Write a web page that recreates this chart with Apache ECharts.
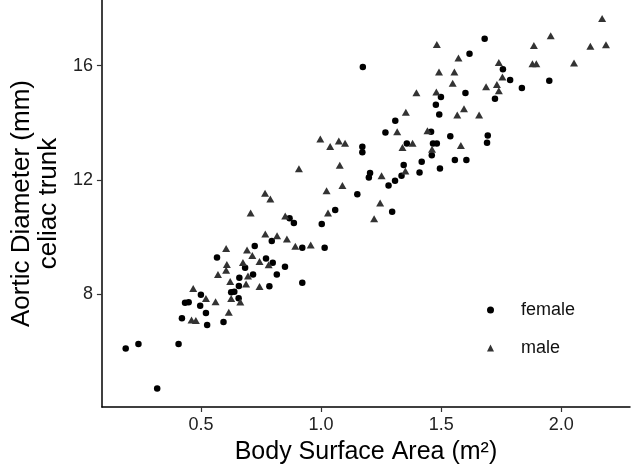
<!DOCTYPE html>
<html>
<head>
<meta charset="utf-8">
<title>Aortic diameter vs body surface area</title>
<script src="https://cdn.jsdelivr.net/npm/echarts@6/dist/echarts.min.js"></script>
<style>
  html, body { margin: 0; padding: 0; background: #fff; }
  #chart { width: 633px; height: 471px; }
</style>
</head>
<body>
<div id="chart"></div>
<script>
// body surface area (m²) and aortic diameter (mm)
const femaleBsa = [
  0.187, 0.240, 0.407, 0.318, 0.421, 0.434, 0.449, 0.500, 0.497, 0.521,
  0.526, 0.594, 0.626, 0.639, 0.657, 0.658, 0.785, 0.724, 0.567, 0.771,
  0.684, 0.717, 0.660, 0.795, 0.869, 0.887, 0.922, 1.015, 0.799, 0.850,
  0.816, 0.922, 1.059, 1.003, 1.151, 1.204, 1.199, 1.296, 1.281, 1.308,
  1.335, 1.344, 1.419, 1.410, 1.461, 1.172, 1.172, 1.174, 1.309, 1.268,
  1.458, 1.357, 1.466, 1.482, 1.499, 1.478, 1.492, 1.601, 1.724, 1.538,
  1.694, 1.691, 1.557, 1.605, 1.495, 1.681, 1.618, 1.757, 1.787, 1.950,
  1.836
];
const femaleDiam = [
  6.09, 6.25, 6.25, 4.69, 7.15, 7.69, 7.71, 7.97, 7.59, 7.33,
  6.91, 7.02, 8.06, 8.08, 7.85, 8.28, 8.27, 9.68, 9.28, 9.24,
  8.92, 8.68, 8.57, 9.86, 10.65, 10.49, 9.62, 9.62, 9.09, 8.95,
  8.68, 8.39, 10.94, 10.45, 11.49, 12.24, 12.08, 10.88, 11.80, 11.97,
  12.14, 12.52, 12.63, 12.26, 12.86, 13.16, 12.97, 15.95, 14.07, 13.66,
  13.68, 13.27, 13.27, 13.27, 14.90, 14.63, 14.29, 15.04, 14.84, 13.53,
  13.55, 13.30, 12.69, 12.69, 12.40, 16.94, 16.42, 15.87, 15.50, 15.47,
  15.22
];
const maleBsa = [
  0.767, 0.789, 0.707, 0.768, 0.605, 0.692, 0.714, 0.744, 0.782, 0.608,
  0.675, 0.605, 0.571, 0.696, 0.622, 0.688, 0.744, 0.468, 0.521, 0.561,
  0.461, 0.479, 0.616, 0.626, 0.664, 0.908, 1.078, 1.089, 1.023, 1.252,
  1.351, 1.246, 1.221, 1.029, 0.851, 0.817, 0.858, 0.893, 0.957, 1.397,
  1.353, 1.317, 1.443, 0.997, 1.038, 1.074, 1.100, 1.339, 1.381, 1.462,
  2.170, 1.956, 2.121, 2.186, 1.886, 1.482, 1.572, 1.880, 1.896, 2.053,
  1.740, 1.491, 1.555, 1.755, 1.548, 1.687, 1.732, 1.740, 1.480, 1.595,
  1.567, 1.658, 1.582
];
const maleDiam = [
  11.53, 11.33, 10.84, 10.10, 9.59, 9.54, 9.35, 9.14, 9.02, 9.03,
  9.10, 8.83, 8.68, 8.63, 8.44, 8.35, 8.26, 8.19, 7.84, 7.73,
  7.09, 7.07, 7.36, 7.84, 7.72, 12.39, 12.51, 11.80, 11.62, 12.14,
  12.31, 11.19, 10.64, 10.84, 10.73, 10.04, 9.93, 9.67, 9.72, 15.05,
  14.37, 13.68, 13.72, 13.43, 13.17, 13.36, 13.28, 13.13, 13.28, 13.07,
  17.65, 17.05, 16.68, 16.73, 16.71, 16.74, 16.27, 16.07, 16.07, 16.09,
  16.11, 15.78, 15.78, 15.60, 15.38, 15.26, 15.34, 15.12, 15.08, 14.49,
  14.27, 14.27, 13.20
];
const xTicks = [0.5, 1.0, 1.5, 2.0];
const yTicks = [8, 12, 16];

const font = "'Liberation Sans', Arial, sans-serif";
const pairs = (xs, ys) => xs.map((x, i) => [x, ys[i]]);

const chart = echarts.init(document.getElementById('chart'), null, { renderer: 'canvas' });

chart.setOption({
  animation: false,
  textStyle: { fontFamily: font },
  grid: { left: 91, right: 3, top: 0, bottom: 64, containLabel: false },
  legend: {
    orient: 'vertical',
    left: 482,
    top: 296,
    itemWidth: 7,
    itemHeight: 7,
    itemGap: 20,
    textStyle: { fontSize: 18, color: '#111', fontFamily: font, padding: [0, 0, 0, 22] },
    data: [
      { name: 'female', icon: 'circle', itemStyle: { color: '#000' } },
      { name: 'male', icon: 'triangle', itemStyle: { color: '#333' } }
    ]
  },
  xAxis: {
    type: 'value',
    min: 0.088,
    max: 2.286,
    name: 'Body Surface Area (m²)',
    nameLocation: 'middle',
    nameGap: 33,
    nameTextStyle: { fontSize: 25, color: '#000', fontFamily: font },
    splitLine: { show: false },
    axisLine: { show: true, onZero: false, lineStyle: { color: '#000', width: 1.5 } },
    axisTick: { show: true, customValues: xTicks, length: 5, lineStyle: { color: '#333', width: 1.2 } },
    axisLabel: {
      customValues: xTicks,
      margin: 9,
      fontSize: 18,
      color: '#222',
      formatter: (v) => v.toFixed(1)
    }
  },
  yAxis: {
    type: 'value',
    min: 4.04,
    max: 18.3,
    name: 'Aortic Diameter (mm)\nceliac trunk',
    nameLocation: 'middle',
    nameRotate: 90,
    nameGap: 32,
    nameTextStyle: { fontSize: 26, color: '#000', lineHeight: 27, fontFamily: font, align: 'center' },
    splitLine: { show: false },
    axisLine: { show: true, onZero: false, lineStyle: { color: '#000', width: 1.5 } },
    axisTick: { show: true, customValues: yTicks, length: 5, lineStyle: { color: '#333', width: 1.2 } },
    axisLabel: {
      customValues: yTicks,
      margin: 9,
      fontSize: 18,
      color: '#222'
    }
  },
  series: [
    {
      name: 'female',
      type: 'scatter',
      symbol: 'circle',
      symbolSize: 6.5,
      itemStyle: { color: '#000', opacity: 1 },
      data: pairs(femaleBsa, femaleDiam)
    },
    {
      name: 'male',
      type: 'scatter',
      symbol: 'triangle',
      symbolSize: [8, 7],
      itemStyle: { color: '#333', opacity: 1 },
      data: pairs(maleBsa, maleDiam)
    }
  ]
});
</script>
</body>
</html>
